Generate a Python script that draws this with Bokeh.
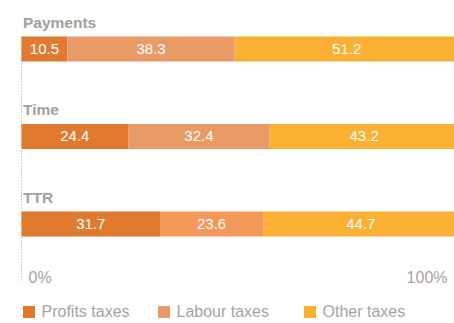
import numpy as np
from bokeh.plotting import figure
from bokeh.models import ColumnDataSource, Range1d, Legend, LegendItem, Label
from bokeh.core.properties import value
from bokeh.embed import file_html
from bokeh.resources import INLINE

categories = ["Payments", "Time", "TTR"]
profits = [10.5, 24.4, 31.7]
labour = [38.3, 32.4, 23.6]
other = [51.2, 43.2, 44.7]
series_names = ["Profits taxes", "Labour taxes", "Other taxes"]
tick_values = [0, 100]
tick_labels = ["0%", "100%"]

profit_colors = ["#E07A2F", "#E07A2F", "#E07A2F"]
labour_colors = ["#E89B67", "#E89B67", "#F4975A"]
other_colors = ["#FBB034", "#FBB034", "#FBB034"]

FONT = "Liberation Sans"
GRAY = "#A8A29E"
BAR_H = 0.286

rows = np.arange(len(categories))
p_arr = np.array(profits)
l_arr = np.array(labour)
o_arr = np.array(other)

p = figure(width=454, height=323,
           x_range=Range1d(-0.229, 99.08), y_range=Range1d(3.137, -0.554),
           output_backend="svg", toolbar_location=None,
           x_axis_location=None, y_axis_location=None,
           min_border_left=20, min_border_right=0, min_border_top=0, min_border_bottom=0,
           outline_line_color=None)
p.xgrid.visible = False
p.ygrid.visible = False

# dotted baseline
p.segment(x0=[0], y0=[-BAR_H / 2], x1=[0], y1=[2.668], line_color="#A09A96",
          line_width=1, line_dash="1 2")

segments = [
    (np.zeros(3), p_arr, profit_colors, series_names[0]),
    (p_arr, p_arr + l_arr, labour_colors, series_names[1]),
    (p_arr + l_arr, p_arr + l_arr + o_arr, other_colors, series_names[2]),
]
renderers = []
for left, right, cols, name in segments:
    src = ColumnDataSource(dict(y=rows, left=left, right=right, color=cols,
                                mid=(left + right) / 2,
                                txt=["%.1f" % v for v in (right - left)]))
    r = p.hbar(y="y", left="left", right="right", height=BAR_H, fill_color="color",
               line_color=None, source=src)
    renderers.append(r)
    p.text(x="mid", y="y", text="txt", source=src, text_color="white",
           text_font=value(FONT), text_font_size="15px", text_align="center",
           text_baseline="middle")

# row labels
lab_src = ColumnDataSource(dict(x=np.zeros(3), y=rows, txt=categories))
p.text(x="x", y="y", text="txt", source=lab_src, x_offset=1.5, y_offset=-26.5,
       text_color="#A39E9A", text_font=value(FONT), text_font_size="15.5px",
       text_font_style="bold", text_align="left", text_baseline="middle")

# tick labels
p.add_layout(Label(x=tick_values[0], y=2, text=tick_labels[0], x_offset=7, y_offset=-53.5,
                   text_color=GRAY, text_font=FONT, text_font_size="16px",
                   text_align="left", text_baseline="middle"))
p.add_layout(Label(x=tick_values[1], y=2, text=tick_labels[1], x_offset=-11, y_offset=-53.5,
                   text_color=GRAY, text_font=FONT, text_font_size="16px",
                   text_align="right", text_baseline="middle"))

# legends
for r, name, xloc in zip(renderers, series_names, [0.5, 135.5, 281.5]):
    lg = Legend(items=[LegendItem(label=name, renderers=[r], index=0)],
                location=(xloc, 2.5), orientation="horizontal",
                glyph_width=15, glyph_height=15, label_standoff=6,
                padding=0, margin=0, spacing=0, label_height=15,
                border_line_color=None, background_fill_alpha=0,
                label_text_font=FONT, label_text_font_size="16px",
                label_text_color=GRAY, label_text_baseline="middle")
    p.add_layout(lg)

open("out.html", "w").write(file_html(p, INLINE))
